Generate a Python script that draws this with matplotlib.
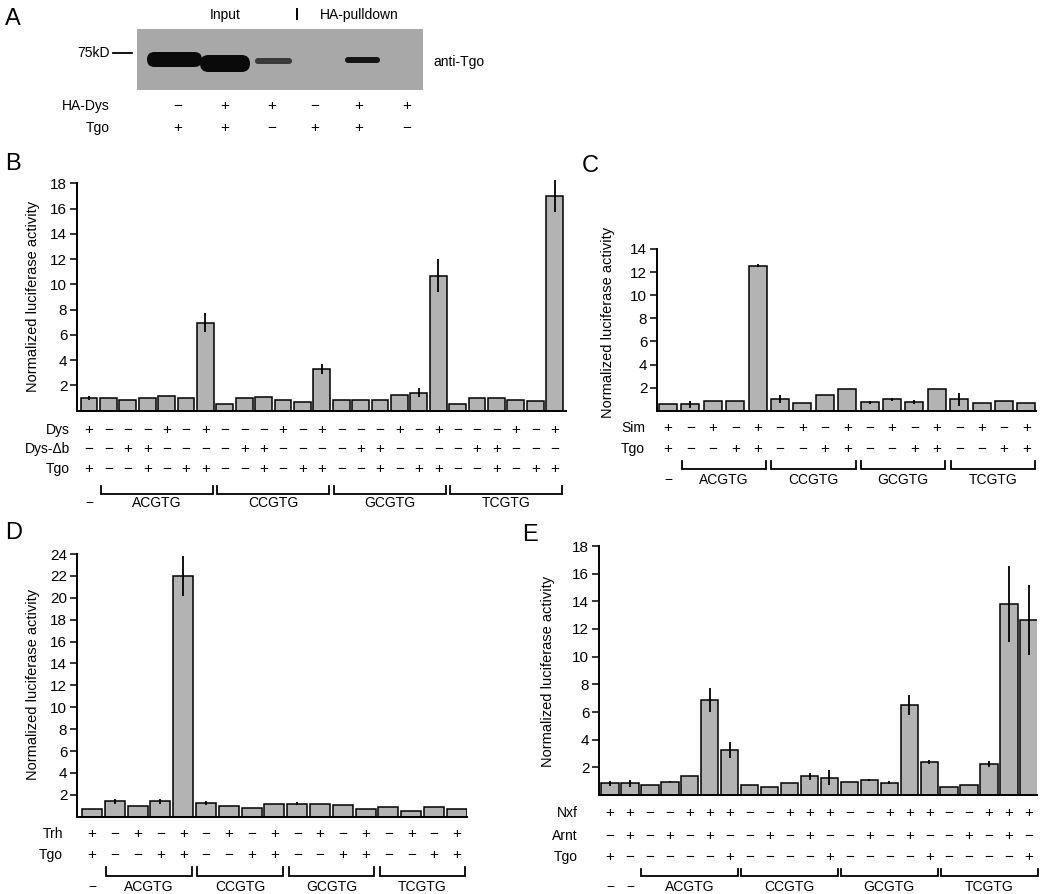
import matplotlib
matplotlib.use("Agg")
import matplotlib.pyplot as plt
from matplotlib.transforms import blended_transform_factory
from matplotlib.patches import Rectangle, FancyBboxPatch

plt.rcParams['font.family'] = ['Liberation Sans', 'DejaVu Sans']

# ---------------- data ----------------
group_labels = ["ACGTG", "CCGTG", "GCGTG", "TCGTG"]

# Panel A (western blot)
A_hadys = "-++-++"
A_tgo = "++-++-"

# Panel B
B_vals = [1.0, 1.0, 0.85, 1.0, 1.13, 1.0, 6.95, 0.55, 1.0, 1.1, 0.85, 0.7, 3.3,
          0.85, 0.85, 0.85, 1.25, 1.43, 10.7, 0.55, 1.0, 1.0, 0.85, 0.75, 17.0]
B_err = [0.15, 0, 0, 0, 0, 0, 0.75, 0, 0, 0, 0, 0, 0.4,
         0, 0, 0, 0, 0.36, 1.3, 0, 0, 0, 0, 0, 1.3]
B_dys = "+---+-+---+-+---+-+---+-+"
B_dysdb = "--++----++----++----++---"
B_tgo = "+--+-++--+-++--+-++--+-++"

# Panel C
C_vals = [0.55, 0.55, 0.87, 0.87, 12.55, 1.0, 0.7, 1.4, 1.85, 0.72, 1.0, 0.72,
          1.85, 1.0, 0.7, 0.85, 0.7]
C_err = [0, 0.3, 0, 0, 0.15, 0.35, 0, 0, 0, 0.12, 0.12, 0.18, 0, 0.55, 0, 0, 0]
C_sim = "+-+-+-+-+-+-+-+-+"
C_tgo = "+--++--++--++--++"

# Panel D
D_vals = [0.67, 1.4, 1.0, 1.4, 22.0, 1.25, 1.0, 0.82, 1.2, 1.2, 1.2, 1.05,
          0.67, 0.85, 0.5, 0.85, 0.7]
D_err = [0, 0.2, 0, 0.2, 1.8, 0.2, 0, 0, 0, 0.15, 0, 0, 0, 0, 0, 0, 0]
D_trh = "+-+-+-+-+-+-+-+-+"
D_tgo = "+--++--++--++--++"

# Panel E
E_vals = [0.84, 0.84, 0.72, 0.96, 1.37, 6.87, 3.25, 0.72, 0.6, 0.84, 1.37, 1.25,
          0.96, 1.08, 0.9, 6.5, 2.36, 0.6, 0.72, 2.24, 13.8, 12.65]
E_err = [0.2, 0.25, 0, 0.05, 0, 0.9, 0.55, 0, 0, 0, 0.25, 0.55,
         0, 0.1, 0.1, 0.75, 0.15, 0, 0, 0.25, 2.75, 2.5]
E_nxf = "++--+++--+++--+++--+++"
E_arnt = "-+-+-+--+-+--+-+--+-+-"
E_tgo = "+-----+----+----+----+"

# ---------------- figure ----------------
W, H = 1050, 894
fig = plt.figure(figsize=(W / 100, H / 100), dpi=100)
ov = fig.add_axes([0, 0, 1, 1], zorder=0)
ov.set_xlim(0, W)
ov.set_ylim(H, 0)
ov.axis('off')

MINUS = '\u2212'
BAR_COLOR = '#b3b3b3'
YLAB = "Normalized luciferase activity"


def sign(s):
    return '+' if s == '+' else MINUS


def chart(vals, errs, left, right, top, bottom, ymax, x0, dx, width):
    ax = fig.add_axes([left / W, 1 - bottom / H, (right - left) / W, (bottom - top) / H], zorder=1)
    ax.patch.set_alpha(0)
    xs = list(range(len(vals)))
    ax.bar(xs, vals, width=width, color=BAR_COLOR, edgecolor='black', linewidth=1.1, zorder=2)
    ex = [x for x, e in zip(xs, errs) if e > 0]
    lo = [v - e for v, e in zip(vals, errs) if e > 0]
    hi = [v + e for v, e in zip(vals, errs) if e > 0]
    ax.vlines(ex, lo, hi, colors='black', lw=1.3, clip_on=False, zorder=3)
    ax.set_xlim(-(x0 - left) / dx, (right - x0) / dx)
    ax.set_ylim(0, ymax)
    ax.set_yticks(list(range(2, ymax + 1, 2)))
    ax.set_xticks([])
    for s in ['top', 'right']:
        ax.spines[s].set_visible(False)
    for s in ['left', 'bottom']:
        ax.spines[s].set_linewidth(1.4)
    ax.tick_params(axis='y', direction='out', length=5, width=1.1, pad=2, labelsize=11)
    return ax


def table(ax, rows, label_x):
    tr = blended_transform_factory(ax.transData, ov.transData)
    for name, signs, y in rows:
        ov.text(label_x, y, name, ha='right', va='center', fontsize=10)
        for i, s in enumerate(signs):
            ov.text(i, y, sign(s), transform=tr, ha='center', va='center', fontsize=11)


def brackets(ax, starts, n_per, y_top, y_bot, y_lab, pad, controls):
    tr = blended_transform_factory(ax.transData, ov.transData)
    for s, lab in zip(starts, group_labels):
        xa = s - pad
        xb = s + n_per - 1 + pad
        ov.plot([xa, xa, xb, xb], [y_top, y_bot, y_bot, y_top], transform=tr,
                color='black', lw=1.3, solid_joinstyle='miter')
        ov.text((xa + xb) / 2, y_lab, lab, transform=tr, ha='center', va='center', fontsize=10)
    for c in controls:
        ov.text(c, y_lab, MINUS, transform=tr, ha='center', va='center', fontsize=10)


# ---------------- Panel A ----------------
ov.text(5, 19, 'A', fontsize=17, ha='left', va='center')
ov.add_patch(Rectangle((137, 29), 286, 61, facecolor='#a8a8a8', edgecolor='none'))
bands = [((147, 52), 55, 15, '#0a0a0a'), ((200, 55), 50, 17, '#0a0a0a'),
         ((255, 58), 37, 6, '#3a3a3a'), ((345, 57), 35, 6, '#151515')]
for (bx, by), bw, bh, bc in bands:
    ov.add_patch(FancyBboxPatch((bx, by), bw, bh, boxstyle="round,pad=0,rounding_size=%f" % (bh / 2),
                                facecolor=bc, edgecolor='none'))
ov.text(225, 15, 'Input', ha='center', va='center', fontsize=10)
ov.plot([297, 297], [9, 19], color='black', lw=1.4)
ov.text(359, 15, 'HA-pulldown', ha='center', va='center', fontsize=10)
ov.text(94, 53, '75kD', ha='center', va='center', fontsize=10)
ov.plot([113, 132], [53, 53], color='black', lw=1.3)
ov.text(433, 62, 'anti-Tgo', ha='left', va='center', fontsize=10)
lane_x = [178, 225, 272, 315, 359, 407]
ov.text(110, 106, 'HA-Dys', ha='right', va='center', fontsize=10)
ov.text(110, 128, 'Tgo', ha='right', va='center', fontsize=10)
for lx, s1, s2 in zip(lane_x, A_hadys, A_tgo):
    ov.text(lx, 106, sign(s1), ha='center', va='center', fontsize=11)
    ov.text(lx, 128, sign(s2), ha='center', va='center', fontsize=11)

# ---------------- Panel B ----------------
ov.text(5, 164, 'B', fontsize=17, ha='left', va='center')
axB = chart(B_vals, B_err, 77, 566, 183.3, 410.7, 18, 89, 19.4, 0.86)
ov.text(33, 296, YLAB, rotation=90, ha='center', va='center', fontsize=10.5)
table(axB, [("Dys", B_dys, 430), ("Dys-\u0394b", B_dysdb, 449), ("Tgo", B_tgo, 469)], 70)
brackets(axB, [1, 7, 13, 19], 6, 486, 494, 503, 0.39, [0])

# ---------------- Panel C ----------------
ov.text(582, 166, 'C', fontsize=17, ha='left', va='center')
axC = chart(C_vals, C_err, 657, 1036, 249, 410.7, 14, 668, 22.4, 0.8)
ov.text(608, 322, YLAB, rotation=90, ha='center', va='center', fontsize=10.5)
table(axC, [("Sim", C_sim, 428), ("Tgo", C_tgo, 449)], 645)
brackets(axC, [1, 5, 9, 13], 4, 461, 469, 480, 0.38, [0])

# ---------------- Panel D ----------------
ov.text(5, 533, 'D', fontsize=17, ha='left', va='center')
axD = chart(D_vals, D_err, 77, 467, 554, 816.7, 24, 92, 22.8, 0.87)
ov.text(33, 684, YLAB, rotation=90, ha='center', va='center', fontsize=10.5)
table(axD, [("Trh", D_trh, 834), ("Tgo", D_tgo, 855)], 63)
brackets(axD, [1, 5, 9, 13], 4, 867, 876, 887, 0.38, [0])

# ---------------- Panel E ----------------
ov.text(522, 535, 'E', fontsize=17, ha='left', va='center')
axE = chart(E_vals, E_err, 599, 1037, 546, 795, 18, 610, 19.95, 0.87)
ov.text(548, 671, YLAB, rotation=90, ha='center', va='center', fontsize=10.5)
table(axE, [("Nxf", E_nxf, 813), ("Arnt", E_arnt, 836), ("Tgo", E_tgo, 857)], 578)
brackets(axE, [2, 7, 12, 17], 5, 869, 876, 887, 0.43, [0, 1])

fig.savefig("out.png", dpi=100)
